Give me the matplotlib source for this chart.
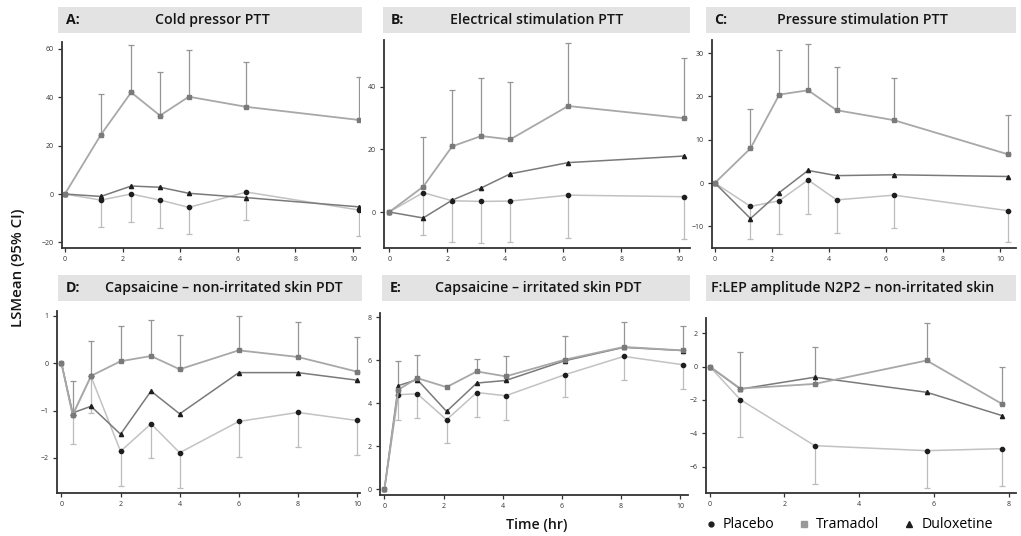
import numpy as np
import matplotlib.pyplot as plt
from matplotlib.lines import Line2D
from matplotlib.patches import Rectangle

plt.rcParams['font.family'] = ['Open Sans', 'DejaVu Sans']

nan = np.nan

# A: cold pressor PTT
a_time = [0, 1.25, 2.3, 3.3, 4.3, 6.3, 10.2]
a_tram = [0, 24.5, 42, 32.4, 40.2, 36, 30.6]
a_tram_hi = [nan, 41.3, 61.6, 50.5, 59.5, 54.4, 48.2]
a_dulox = [0, -1, 3.3, 2.8, 0.3, -1.5, -5.3]
a_plac = [0, -2.5, 0, -2.5, -5.5, 0.8, -6.6]
a_plac_lo = [nan, -13.6, -11.6, -14, -16.5, -10.9, -17.5]

# B: electrical stimulation PTT
b_time = [0, 1.17, 2.17, 3.17, 4.17, 6.17, 10.17]
b_tram = [0, 8.1, 21, 24.3, 23.2, 33.9, 30]
b_tram_hi = [nan, 24.1, 39, 42.7, 41.6, 53.9, 49.4]
b_dulox = [0, -1.9, 3.8, 7.7, 12.2, 15.8, 17.9]
b_plac = [0, 6.2, 3.6, 3.4, 3.5, 5.4, 4.9]
b_plac_lo = [nan, -7.4, -9.7, -10, -9.7, -8.2, -8.7]

# C: pressure stimulation PTT
c_time = [0, 1.25, 2.26, 3.27, 4.27, 6.28, 10.29]
c_tram = [0, 8, 20.4, 21.4, 16.8, 14.5, 6.6]
c_tram_hi = [nan, 17, 30.8, 32, 26.8, 24.3, 15.7]
c_dulox = [0, -8.2, -2.2, 2.9, 1.7, 1.9, 1.5]
c_plac = [0, -5.4, -4.1, 0.7, -3.9, -2.8, -6.4]
c_plac_lo = [nan, -12.9, -11.8, -7.1, -11.5, -10.4, -13.7]

# D: capsaicine, non-irritated skin PDT
d_time = [0, 0.38, 1, 2, 3.03, 4, 6, 8, 10]
d_tram = [0, -1.09, -0.27, 0.04, 0.15, -0.13, 0.27, 0.13, -0.18]
d_tram_hi = [nan, -0.38, 0.46, 0.79, 0.9, 0.6, 1.0, 0.87, 0.56]
d_dulox = [0, -1.05, -0.91, -1.5, -0.59, -1.07, -0.2, -0.2, -0.36]
d_plac = [0, -1.1, -0.28, -1.86, -1.28, -1.89, -1.23, -1.04, -1.21]
d_plac_lo = [nan, -1.71, -1.05, -2.6, -2.01, -2.63, -1.98, -1.77, -1.94]

# E: capsaicine, irritated skin PDT
e_time = [0, 0.47, 1.11, 2.1, 3.12, 4.1, 6.1, 8.09, 10.1]
e_tram = [0, 4.63, 5.17, 4.75, 5.48, 5.25, 6.03, 6.62, 6.46]
e_tram_hi = [nan, 5.98, 6.23, nan, 6.07, 6.18, 7.15, 7.78, 7.61]
e_dulox = [0, 4.82, 5.1, 3.62, 4.94, 5.06, 5.98, 6.6, 6.45]
e_plac = [0, 4.4, 4.44, 3.23, 4.5, 4.35, 5.33, 6.18, 5.79]
e_plac_lo = [nan, 3.23, 3.31, 2.14, 3.38, 3.23, 4.27, 5.1, 4.66]

# F: LEP amplitude N2P2, non-irritated skin
f_time = [0, 0.82, 2.81, 5.81, 7.82]
f_tram = [0, -1.32, -1.04, 0.36, -2.23]
f_tram_hi = [nan, 0.86, 1.18, 2.62, -0.02]
f_dulox = [0, -1.35, -0.64, -1.54, -2.93]
f_plac = [0, -1.98, -4.73, -5.03, -4.91]
f_plac_lo = [nan, -4.23, -7.0, -7.26, -7.17]

titles = [('A:', 'Cold pressor PTT'),
          ('B:', 'Electrical stimulation PTT'),
          ('C:', 'Pressure stimulation PTT'),
          ('D:', 'Capsaicine \u2013 non-irritated skin PDT'),
          ('E:', 'Capsaicine \u2013 irritated skin PDT'),
          ('', 'F:LEP amplitude N2P2 \u2013 non-irritated skin')]

W, H = 1021, 536
fig = plt.figure(figsize=(W / 100, H / 100), dpi=100)

# pixel boxes: (left, top, right, bottom) of axes and title strip
axes_px = [(62, 42, 360, 248), (384, 40, 690, 248), (712, 40, 1016, 248),
           (57, 311, 360, 493), (380, 313, 688, 495), (706, 318, 1016, 493)]
strip_px = [(58, 7, 362, 33), (383, 7, 690, 33), (706, 7, 1016, 33),
            (58, 275, 362, 301), (382, 275, 690, 301), (706, 275, 1016, 301)]
title_x = [212, 537, 862, 224, 538, 711]
xlims = [(-0.1, 10.24), (-0.18, 10.37), (-0.1, 10.56),
         (-0.15, 10.1), (-0.15, 10.26), (-0.1, 8.2)]
ylims = [(-22.3, 62.8), (-11.5, 55), (-15, 33),
         (-2.74, 1.1), (-0.27, 8.2), (-7.56, 2.9)]
yticks = [[-20, 0, 20, 40, 60], [0, 20, 40], [-10, 0, 10, 20, 30],
          [-2, -1, 0, 1], [0, 2, 4, 6, 8], [-6, -4, -2, 0, 2]]
xticks = [[0, 2, 4, 6, 8, 10]] * 5 + [[0, 2, 4, 6, 8]]

data = [(a_time, a_tram, a_tram_hi, a_dulox, a_plac, a_plac_lo),
        (b_time, b_tram, b_tram_hi, b_dulox, b_plac, b_plac_lo),
        (c_time, c_tram, c_tram_hi, c_dulox, c_plac, c_plac_lo),
        (d_time, d_tram, d_tram_hi, d_dulox, d_plac, d_plac_lo),
        (e_time, e_tram, e_tram_hi, e_dulox, e_plac, e_plac_lo),
        (f_time, f_tram, f_tram_hi, f_dulox, f_plac, f_plac_lo)]

tram_c = '#a8a8a8'
dulox_c = '#7a7a7a'
plac_c = '#c2c2c2'
mark_c = '#1e1e1e'
txt_c = '#151515'
fs = 10.2


def half_bars(ax, t, y, bound, color, up):
    t, y, bound = np.array(t), np.array(y), np.array(bound)
    ok = ~np.isnan(bound)
    d = np.abs(bound[ok] - y[ok])
    err = [np.zeros_like(d), d] if up else [d, np.zeros_like(d)]
    ax.errorbar(t[ok], y[ok], yerr=err, fmt='none', ecolor=color,
                elinewidth=0.9, capsize=2.5, capthick=0.9, zorder=2)


for i, (t, tram, tram_hi, dulox, plac, plac_lo) in enumerate(data):
    l, tp, r, b = axes_px[i]
    ax = fig.add_axes([l / W, 1 - b / H, (r - l) / W, (b - tp) / H])

    half_bars(ax, t, tram, tram_hi, '#959595', True)
    half_bars(ax, t, plac, plac_lo, '#bcbcbc', False)
    ax.plot(t, plac, color=plac_c, lw=1.1, marker='o', ms=3,
            mfc=mark_c, mec=mark_c, zorder=3)
    ax.plot(t, dulox, color=dulox_c, lw=1.1, marker='^', ms=3,
            mfc=mark_c, mec=mark_c, zorder=3)
    ax.plot(t, tram, color=tram_c, lw=1.3, marker='s', ms=3,
            mfc='#7a7a7a', mec='#7a7a7a', zorder=4)

    ax.set_xlim(*xlims[i])
    ax.set_ylim(*ylims[i])
    ax.set_xticks(xticks[i])
    ax.set_yticks(yticks[i])
    ax.tick_params(labelsize=5, length=3, width=0.9, colors='#333333', pad=3)
    for s in ['top', 'right']:
        ax.spines[s].set_visible(False)
    for s in ['left', 'bottom']:
        ax.spines[s].set_linewidth(1.3)
        ax.spines[s].set_color('#333333')

    sl, st, sr, sb = strip_px[i]
    fig.patches.append(Rectangle((sl / W, 1 - sb / H), (sr - sl) / W, (sb - st) / H,
                                 transform=fig.transFigure, facecolor='#e3e3e3',
                                 edgecolor='none', zorder=0))
    ymid = 1 - (st + sb) / 2 / H
    letter, name = titles[i]
    if letter:
        fig.text((sl + 8) / W, ymid, letter, fontsize=fs, fontweight='bold',
                 ha='left', va='center', color=txt_c)
        fig.text(title_x[i] / W, ymid, name, fontsize=fs, fontweight='semibold',
                 ha='center', va='center', color=txt_c)
    else:
        fig.text(title_x[i] / W, ymid, name, fontsize=fs, fontweight='semibold',
                 ha='left', va='center', color=txt_c)

fig.text(18 / W, 1 - 268 / H, 'LSMean (95% CI)', rotation=90, fontsize=10.8,
         fontweight='semibold', ha='center', va='center', color=txt_c)
fig.text(537 / W, 1 - 525 / H, 'Time (hr)', fontsize=fs, fontweight='semibold',
         ha='center', va='center', color=txt_c)

handles = [Line2D([], [], ls='none', marker='o', ms=3.5, color=mark_c),
           Line2D([], [], ls='none', marker='s', ms=5, color='#999999'),
           Line2D([], [], ls='none', marker='^', ms=5, color=mark_c)]
fig.legend(handles, ['Placebo', 'Tramadol', 'Duloxetine'], ncol=3,
           loc='center left', bbox_to_anchor=(705 / W, 1 - 525 / H),
           frameon=False, fontsize=fs, handlelength=0.8, handletextpad=0.45,
           columnspacing=1.7, borderpad=0, borderaxespad=0)

fig.savefig('out.png', dpi=100, facecolor='white')
